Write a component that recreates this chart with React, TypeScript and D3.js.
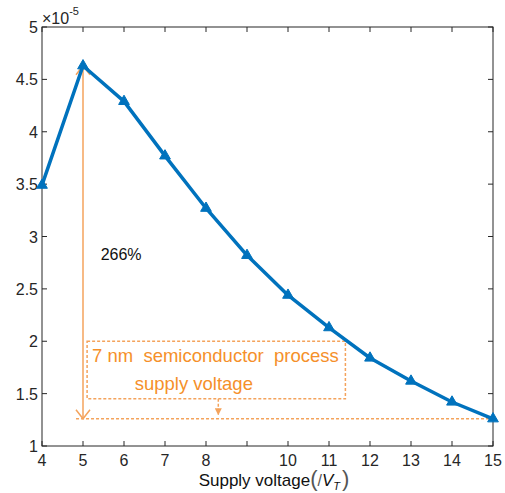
import * as d3 from "d3";
import React, { useEffect, useRef } from "react";

const voltages = [4, 5, 6, 7, 8, 9, 10, 11, 12, 13, 14, 15];
const values = [3.49, 4.63, 4.29, 3.77, 3.27, 2.82, 2.44, 2.13, 1.84, 1.62, 1.42, 1.26];
const xTicks = [4, 5, 6, 7, 8, 9, 10, 11, 12, 13, 14, 15];
const xTickLabels = ["4", "5", "6", "7", "8", "", "10", "11", "12", "13", "14", "15"];
const yTicks = [1, 1.5, 2, 2.5, 3, 3.5, 4, 4.5, 5];
const noteLines = ["7 nm  semiconductor  process", "supply voltage"];
const pctLabel = "266%";

const W = 505;
const H = 493;
const M = { left: 42, right: 12, top: 27, bottom: 47 };
const ORANGE = "#f4a35c";
const ORANGE_TXT = "#f5902a";
const BLUE = "#0072bd";
const AX = "#262626";

const App = () => {
  const ref = useRef<SVGSVGElement>(null);

  useEffect(() => {
    const svg = d3.select(ref.current);
    svg.selectAll("*").remove();

    const x = d3.scaleLinear().domain([4, 15]).range([M.left, W - M.right]);
    const y = d3.scaleLinear().domain([1, 5]).range([H - M.bottom, M.top]);
    const font = "'Liberation Sans', Arial, sans-serif";

    const defs = svg.append("defs");
    defs
      .append("marker")
      .attr("id", "open")
      .attr("viewBox", "0 0 20 20")
      .attr("refX", 10)
      .attr("refY", 10)
      .attr("markerWidth", 20)
      .attr("markerHeight", 20)
      .attr("markerUnits", "userSpaceOnUse")
      .attr("orient", "auto-start-reverse")
      .append("path")
      .attr("d", "M1,3 L10,10 L1,17")
      .attr("fill", "none")
      .attr("stroke", ORANGE)
      .attr("stroke-width", 1.5);
    defs
      .append("marker")
      .attr("id", "solid")
      .attr("viewBox", "0 0 10 10")
      .attr("refX", 9)
      .attr("refY", 5)
      .attr("markerWidth", 7)
      .attr("markerHeight", 7)
      .attr("markerUnits", "userSpaceOnUse")
      .attr("orient", "auto")
      .append("path")
      .attr("d", "M0,0 L10,5 L0,10 Z")
      .attr("fill", ORANGE);

    // box + ticks
    const x0 = x(4), x1 = x(15), y0 = y(5), y1 = y(1);
    const tl = 5;
    const g = svg.append("g").attr("stroke", AX).attr("stroke-width", 1);
    xTicks.forEach((t) => {
      g.append("line").attr("x1", x(t)).attr("x2", x(t)).attr("y1", y1).attr("y2", y1 - tl);
      g.append("line").attr("x1", x(t)).attr("x2", x(t)).attr("y1", y0).attr("y2", y0 + tl);
    });
    yTicks.forEach((t) => {
      g.append("line").attr("x1", x0).attr("x2", x0 + tl).attr("y1", y(t)).attr("y2", y(t));
      g.append("line").attr("x1", x1).attr("x2", x1 - tl).attr("y1", y(t)).attr("y2", y(t));
    });
    g.append("rect")
      .attr("x", x0)
      .attr("y", y0)
      .attr("width", x1 - x0)
      .attr("height", y1 - y0)
      .attr("fill", "none");

    svg
      .append("g")
      .selectAll("text")
      .data(xTicks)
      .join("text")
      .attr("x", (d) => x(d))
      .attr("y", y1 + 20)
      .attr("text-anchor", "middle")
      .attr("font-family", font)
      .attr("font-size", 16)
      .attr("fill", AX)
      .text((d, i) => xTickLabels[i]);

    svg
      .append("g")
      .selectAll("text")
      .data(yTicks)
      .join("text")
      .attr("x", x0 - 4)
      .attr("y", (d) => y(d) + 6)
      .attr("text-anchor", "end")
      .attr("font-family", font)
      .attr("font-size", 16)
      .attr("fill", AX)
      .text((d) => String(d));

    const exp = svg
      .append("text")
      .attr("x", x0)
      .attr("y", y0 - 3)
      .attr("font-family", font)
      .attr("font-size", 16)
      .attr("fill", AX);
    exp.append("tspan").text("×10");
    exp.append("tspan").attr("dy", -9).attr("font-size", 11).text("-5");

    const xl = svg
      .append("text")
      .attr("x", 274)
      .attr("y", H - 7)
      .attr("text-anchor", "middle")
      .attr("font-family", font)
      .attr("font-size", 17)
      .attr("fill", "#111");
    xl.append("tspan").text("Supply voltage");
    xl.append("tspan").attr("font-size", 22).attr("font-weight", 300).attr("fill", "#555").text("(");
    xl.append("tspan").attr("font-size", 16).attr("fill", "#555").text("/");
    xl.append("tspan").attr("font-style", "italic").text("V");
    xl.append("tspan").attr("font-style", "italic").attr("font-size", 11).attr("dy", 4).text("T");
    xl.append("tspan").attr("dy", -4).attr("dx", 2).attr("font-size", 22).attr("font-weight", 300).attr("fill", "#555").text(")");

    // annotations
    const peak = values[1];
    const low = values[values.length - 1];
    svg
      .append("line")
      .attr("x1", x(5))
      .attr("x2", x(5))
      .attr("y1", y(peak))
      .attr("y2", y(low))
      .attr("stroke", ORANGE)
      .attr("stroke-width", 1.5)
      .attr("marker-start", "url(#open)")
      .attr("marker-end", "url(#open)");

    svg
      .append("line")
      .attr("x1", x(4.83))
      .attr("x2", x(15))
      .attr("y1", y(low))
      .attr("y2", y(low))
      .attr("stroke", ORANGE)
      .attr("stroke-width", 1.5)
      .attr("stroke-dasharray", "3,2");

    svg
      .append("rect")
      .attr("x", x(5.1))
      .attr("y", y(2))
      .attr("width", x(11.4) - x(5.1))
      .attr("height", y(1.45) - y(2))
      .attr("fill", "none")
      .attr("stroke", ORANGE)
      .attr("stroke-width", 1.5)
      .attr("stroke-dasharray", "3,2");

    svg
      .append("line")
      .attr("x1", x(8.3))
      .attr("x2", x(8.3))
      .attr("y1", y(1.45))
      .attr("y2", y(1.3))
      .attr("stroke", ORANGE)
      .attr("stroke-width", 1.5)
      .attr("stroke-dasharray", "3,2")
      .attr("marker-end", "url(#solid)");

    svg
      .append("text")
      .attr("x", x(5.22))
      .attr("y", y(1.8))
      .attr("font-family", font)
      .attr("font-size", 18.5)
      .attr("fill", ORANGE_TXT)
      .attr("xml:space", "preserve")
      .style("white-space", "pre")
      .text(noteLines[0]);
    svg
      .append("text")
      .attr("x", x(6.26))
      .attr("y", y(1.535))
      .attr("font-family", font)
      .attr("font-size", 18.5)
      .attr("fill", ORANGE_TXT)
      .text(noteLines[1]);

    svg
      .append("text")
      .attr("x", x(5.43))
      .attr("y", y(2.82) + 5)
      .attr("font-family", font)
      .attr("font-size", 16)
      .attr("fill", "#111")
      .text(pctLabel);

    // series
    const pts = voltages.map((v, i) => [v, values[i]] as [number, number]);
    const line = d3
      .line<[number, number]>()
      .x((d) => x(d[0]))
      .y((d) => y(d[1]));
    svg
      .append("path")
      .datum(pts)
      .attr("d", line)
      .attr("fill", "none")
      .attr("stroke", BLUE)
      .attr("stroke-width", 3.5)
      .attr("stroke-linejoin", "round");

    const tri = d3.symbol().type(d3.symbolTriangle).size(50);
    svg
      .append("g")
      .selectAll("path")
      .data(pts)
      .join("path")
      .attr("transform", (d) => `translate(${x(d[0])},${y(d[1])})`)
      .attr("d", tri)
      .attr("fill", BLUE)
      .attr("stroke", BLUE);
  }, []);

  return <svg ref={ref} width={W} height={H} style={{ position: "absolute", left: 0, top: 0 }} />;
};

export default App;
